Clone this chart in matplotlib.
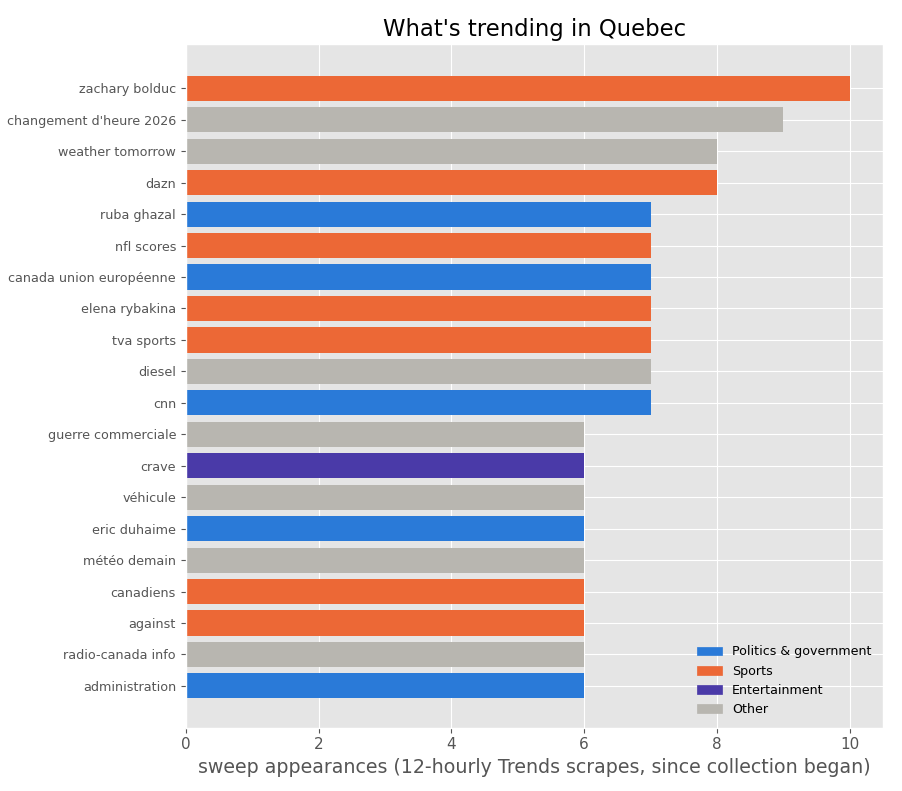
import matplotlib
matplotlib.use("Agg")
import matplotlib.pyplot as plt
from matplotlib.patches import Patch

plt.style.use("ggplot")

terms = ["zachary bolduc", "changement d'heure 2026", "weather tomorrow", "dazn",
         "ruba ghazal", "nfl scores", "canada union européenne", "elena rybakina",
         "tva sports", "diesel", "cnn", "guerre commerciale", "crave", "véhicule",
         "eric duhaime", "météo demain", "canadiens", "against",
         "radio-canada info", "administration"]
counts = [10, 9, 8, 8, 7, 7, 7, 7, 7, 7, 7, 6, 6, 6, 6, 6, 6, 6, 6, 6]
cats = ["Sports", "Other", "Other", "Sports", "Politics & government", "Sports",
        "Politics & government", "Sports", "Sports", "Other", "Politics & government",
        "Other", "Entertainment", "Other", "Politics & government", "Other",
        "Sports", "Sports", "Other", "Politics & government"]

palette = {
    "Politics & government": "#2a7ad8",
    "Sports": "#ec6836",
    "Entertainment": "#4a3aa8",
    "Other": "#b8b6b0",
}

fig, ax = plt.subplots(figsize=(9.02, 7.91), dpi=100)
fig.subplots_adjust(left=0.206, right=0.979, top=0.944, bottom=0.080)

ypos = list(range(len(terms)))[::-1]
ax.barh(ypos, counts, height=0.8, color=[palette[c] for c in cats])
ax.set_yticks(ypos)
ax.set_yticklabels(terms, fontsize=9.2)
ax.tick_params(axis="x", labelsize=11)
ax.set_xlim(0, 10.5)
ax.set_ylim(-1.33, len(terms) - 1 + 1.4)
ax.set_xlabel("sweep appearances (12-hourly Trends scrapes, since collection began)", fontsize=13.7)
ax.set_title("What's trending in Quebec", fontsize=16.4)

handles = [Patch(color=palette[k], label=k) for k in palette]
ax.legend(handles=handles, loc="lower right", fontsize=9.1, frameon=False)

fig.savefig("out.png")
